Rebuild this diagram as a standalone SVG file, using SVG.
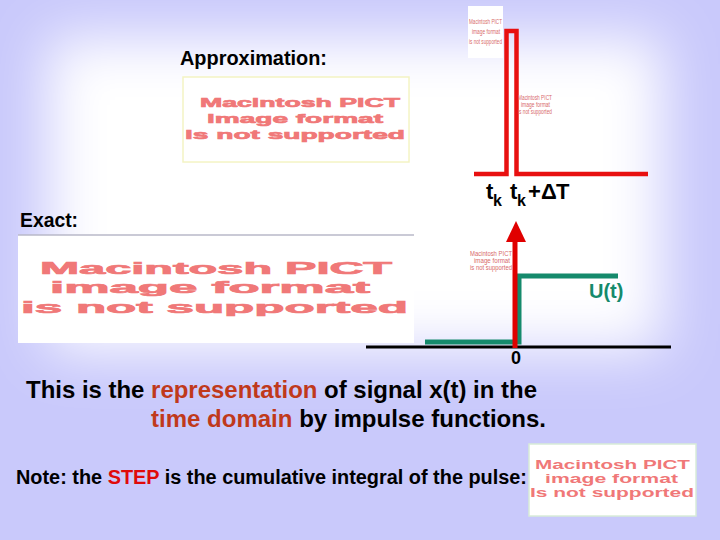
<svg xmlns="http://www.w3.org/2000/svg" width="720" height="540" viewBox="0 0 720 540">
<defs>
<filter id="soft" x="-30%" y="-30%" width="160%" height="160%"><feGaussianBlur stdDeviation="28"/></filter>
<style>
text{font-family:"Liberation Sans",Arial,sans-serif;font-weight:bold;}
.lbl{font-size:20px;fill:#000;}
.pict{fill:#f07878;font-family:"Liberation Sans",Arial,sans-serif;font-weight:bold;}
.heavy{stroke:#f07878;stroke-width:0.7px;}
.tiny{fill:#d86a6a;font-size:7px;font-weight:normal;}
.hl{fill:#c0391b;}
</style>
</defs>
<rect width="720" height="540" fill="#c9c9fb"/>
<rect x="48" y="38" width="614" height="312" fill="#fff" filter="url(#soft)"/>

<g id="approx-label"><text class="lbl" x="180" y="65" textLength="147" lengthAdjust="spacingAndGlyphs">Approximation:</text></g>

<g id="approx-image">
<rect x="183" y="77" width="226" height="85" fill="#fff" stroke="#f4f4c4" stroke-width="1.5"/>
<text class="pict heavy" x="200" y="107" font-size="13.5" textLength="200" lengthAdjust="spacingAndGlyphs">Macintosh PICT</text>
<text class="pict heavy" x="207" y="123" font-size="13.5" textLength="176" lengthAdjust="spacingAndGlyphs">image format</text>
<text class="pict heavy" x="185" y="139" font-size="13.5" textLength="220" lengthAdjust="spacingAndGlyphs">is not supported</text>
</g>

<g id="pulse-image">
<rect x="468" y="6" width="35" height="52" fill="#fff"/>
<text class="pict tiny" x="469" y="24" textLength="33" lengthAdjust="spacingAndGlyphs">Macintosh PICT</text>
<text class="pict tiny" x="472" y="34" textLength="28" lengthAdjust="spacingAndGlyphs">image format</text>
<text class="pict tiny" x="469" y="44" textLength="33" lengthAdjust="spacingAndGlyphs">is not supported</text>
</g>

<g id="pulse">
<path d="M474,174 H506.5 V31 H516.5 V174 H648" fill="none" stroke="#e81010" stroke-width="4.5"/>
</g>

<g id="pulse-image-2">
<text class="pict tiny" x="518" y="100" textLength="34" lengthAdjust="spacingAndGlyphs">Macintosh PICT</text>
<text class="pict tiny" x="521" y="107" textLength="29" lengthAdjust="spacingAndGlyphs">image format</text>
<text class="pict tiny" x="518" y="114" textLength="34" lengthAdjust="spacingAndGlyphs">is not supported</text>
</g>

<g id="pulse-labels">
<text x="486" y="199" font-size="22">t</text>
<text x="493" y="206" font-size="16">k</text>
<text x="510" y="199" font-size="22">t</text>
<text x="517" y="206" font-size="16">k</text>
<text x="528" y="199" font-size="22">+</text>
<text x="541" y="199" font-size="22">Δ</text>
<text x="556" y="199" font-size="22">T</text>
</g>

<g id="exact-label"><text class="lbl" x="20" y="227" textLength="58" lengthAdjust="spacingAndGlyphs">Exact:</text></g>

<g id="exact-image">
<rect x="18" y="235" width="396" height="108" fill="#fff"/>
<line x1="18" y1="235" x2="414" y2="235" stroke="#b8b8c8" stroke-width="1.5"/>
<text class="pict heavy" x="40" y="274" font-size="17" textLength="352" lengthAdjust="spacingAndGlyphs">Macintosh PICT</text>
<text class="pict heavy" x="50" y="293" font-size="17" textLength="320" lengthAdjust="spacingAndGlyphs">image format</text>
<text class="pict heavy" x="21" y="313" font-size="17" textLength="387" lengthAdjust="spacingAndGlyphs">is not supported</text>
</g>

<g id="axis"><line x1="366" y1="347" x2="671" y2="347" stroke="#000" stroke-width="3"/></g>

<g id="step">
<path d="M425,342 H519 V276 H618" fill="none" stroke="#158a6c" stroke-width="5"/>
</g>

<g id="arrow-image">
<rect x="468" y="246" width="49" height="28" fill="#fff"/>
<text class="pict tiny" x="470" y="256" textLength="42" lengthAdjust="spacingAndGlyphs">Macintosh PICT</text>
<text class="pict tiny" x="474" y="263" textLength="36" lengthAdjust="spacingAndGlyphs">image format</text>
<text class="pict tiny" x="470" y="270" textLength="42" lengthAdjust="spacingAndGlyphs">is not supported</text>
</g>

<g id="connectors">
<line x1="515" y1="348" x2="515" y2="240" stroke="#e00000" stroke-width="5"/>
<polygon points="506,242 526,242 516,221" fill="#e00000"/>
</g>

<g id="step-label"><text x="589" y="298" font-size="20" fill="#158a6c">U(t)</text></g>
<g id="zero-label"><text x="511" y="364" font-size="18">0</text></g>

<g id="caption">
<text x="26" y="398" font-size="24" textLength="511" lengthAdjust="spacingAndGlyphs">This is the <tspan class="hl">representation</tspan> of signal x(t) in the</text>
<text x="151" y="427" font-size="24" textLength="395" lengthAdjust="spacingAndGlyphs"><tspan class="hl">time domain</tspan> by impulse functions.</text>
</g>

<g id="note">
<text x="16" y="484" font-size="20" textLength="511" lengthAdjust="spacingAndGlyphs">Note: the <tspan fill="#e00a0a">STEP</tspan> is the cumulative integral of the pulse:</text>
</g>

<g id="note-image">
<rect x="529" y="444" width="167" height="72" fill="#fff" stroke="#d8ecd8" stroke-width="1.5"/>
<text class="pict" x="535" y="469" font-size="13" textLength="155" lengthAdjust="spacingAndGlyphs">Macintosh PICT</text>
<text class="pict" x="545" y="483" font-size="13" textLength="133" lengthAdjust="spacingAndGlyphs">image format</text>
<text class="pict" x="530" y="497" font-size="13" textLength="164" lengthAdjust="spacingAndGlyphs">Is not supported</text>
</g>
</svg>
